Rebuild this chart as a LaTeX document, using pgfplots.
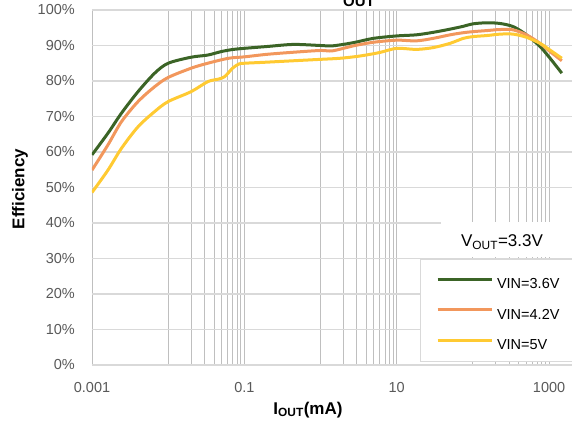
\documentclass[border=0pt]{standalone}
\usepackage{fontspec}
\setmainfont{Liberation Sans}
\usepackage{pgfplots}
\pgfplotsset{compat=1.18}
\definecolor{cgreen}{HTML}{3B6426}
\definecolor{corange}{HTML}{F2975C}
\definecolor{cyellow}{HTML}{FFCA32}
\definecolor{tickgray}{HTML}{595959}
\definecolor{hgrid}{HTML}{D9D9D9}
\definecolor{vgrid}{HTML}{BFBFBF}
\begin{document}
\begin{tikzpicture}[x=1bp,y=1bp]
\begin{axis}[
  at={(92bp,64bp)}, anchor=south west,
  scale only axis, width=480bp, height=355bp,
  xmode=log, log basis x=10,
  xmin=0.001, xmax=2000, ymin=0, ymax=100,
  xtick={0.001,0.1,10,1000}, xticklabels={0.001,0.1,10,1000},
  minor xtick={0.01,0.02,0.03,0.04,0.05,0.06,0.07,0.08,0.09,1,2,3,4,5,6,7,8,9,100,200,300,400,500,600,700,800,900},
  ytick={0,10,...,100},
  yticklabel={\pgfmathprintnumber{\tick}\%},
  /pgf/number format/assume math mode=true,
  xmajorgrids, xminorgrids, ymajorgrids,
  major x grid style={vgrid, line width=0.8bp},
  minor x grid style={vgrid, line width=0.8bp},
  major y grid style={hgrid, line width=1.3bp},
  axis line style={draw=none},
  major tick style={draw=none}, minor tick style={draw=none},
  tick label style={font=\fontsize{14.5bp}{17bp}\selectfont, text=tickgray, inner sep=0pt},
  yticklabel style={anchor=east, xshift=-17bp},
  xticklabel style={anchor=north, yshift=-17.5bp},
  legend cell align=left,
  legend image code/.code={\draw[#1, line width=3bp] (0bp,5.2bp) -- (54bp,5.2bp);},
  legend style={at={(axis description cs:0.7167,0.2456)}, anchor=north west,
    draw=none, fill=none, inner sep=0pt, outer sep=0pt,
    row sep=18bp, column sep=4bp,
    nodes={inner sep=0pt, text=black, font=\fontsize{14.5bp}{17bp}\selectfont}},
]
\fill[white, draw=hgrid, line width=1bp] (axis description cs:0.6854,0.0085) rectangle (axis description cs:1.05,0.2958);
\addplot[cgreen, line width=3bp, smooth] coordinates {
(0.001,59.2) (0.00162,65.3) (0.00243,70.9) (0.00402,77.0) (0.00665,82.2)
(0.01,85.0) (0.02,86.7) (0.033,87.3) (0.05,88.3) (0.0716,88.9) (0.1,89.2)
(0.195,89.7) (0.44,90.3) (1.0,90.0) (1.44,89.9) (2.7,90.8) (4.9,92.0)
(10,92.7) (18,93.0) (30,93.7) (50,94.6) (74.6,95.4) (100,96.1) (152,96.4)
(227,96.2) (339,95.3) (506,93.0) (762,89.7) (1030,86.4) (1470,82.2)
};
\addlegendentry{VIN=3.6V}
\addplot[corange, line width=3bp, smooth] coordinates {
(0.001,54.9) (0.00162,62.0) (0.00243,68.5) (0.00402,74.2) (0.00665,78.4)
(0.01,81.0) (0.02,83.6) (0.033,85.0) (0.062,86.4) (0.1,86.8) (0.195,87.5)
(0.44,88.1) (1.0,88.6) (1.44,88.5) (2.7,89.9) (4.9,90.9) (10,91.5) (18,91.3)
(30,92.0) (50,93.0) (74.6,93.6) (100,93.9) (152,94.2) (227,94.5) (339,94.4)
(506,93.0) (762,90.6) (1030,88.3) (1470,85.7)
};
\addlegendentry{VIN=4.2V}
\addplot[cyellow, line width=3bp, smooth] coordinates {
(0.001,48.6) (0.00162,54.9) (0.00243,61.0) (0.00402,67.1) (0.00665,71.4)
(0.01,74.2) (0.02,77.0) (0.033,79.8) (0.045,80.5) (0.055,81.2) (0.07,83.6)
(0.085,84.8) (0.1,85.0) (0.195,85.3) (0.44,85.7) (1.0,86.1) (1.8,86.4)
(3.2,87.0) (5.9,88.0) (10,89.2) (18,88.9) (30,89.4) (50,90.6) (74.6,92.0)
(100,92.5) (152,92.8) (227,93.2) (339,93.2) (506,92.3) (762,90.6) (1030,88.7)
(1470,86.4)
};
\addlegendentry{VIN=5V}
\end{axis}
\fill[white] (441bp,172bp) rectangle (590bp,207bp);
\node[font=\fontsize{17bp}{20bp}\selectfont] at (502bp,187bp) {V\textsubscript{OUT}=3.3V};
\node[rotate=90, font=\fontsize{17bp}{20bp}\selectfont\bfseries] at (20bp,240bp) {Efficiency};
\node[font=\fontsize{17bp}{20bp}\selectfont\bfseries] at (308bp,19bp) {I\textsubscript{OUT}(mA)};
\node[anchor=base west, inner sep=0pt, font=\fontsize{15bp}{18bp}\selectfont\bfseries] at (343bp,422bp) {OUT};
\pgfresetboundingbox
\useasboundingbox (0bp,0bp) rectangle (572bp,429bp);
\end{tikzpicture}
\end{document}
